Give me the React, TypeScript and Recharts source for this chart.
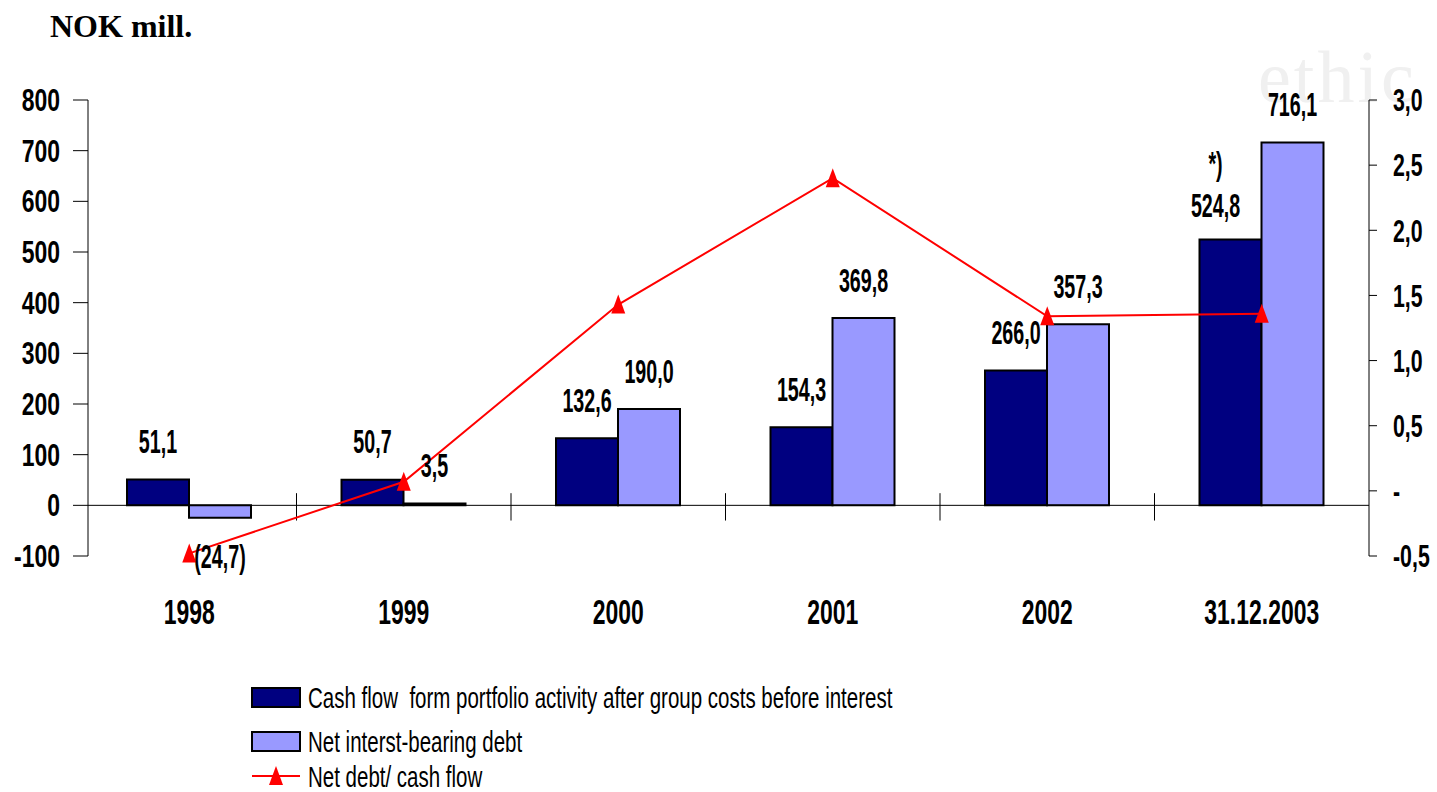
import React from 'react';
import { ComposedChart, Bar, Line, XAxis, YAxis, ReferenceLine } from 'recharts';

// ---------- data ----------
const categories = ['1998', '1999', '2000', '2001', '2002', '31.12.2003'];
const cashFlow = [51.1, 50.7, 132.6, 154.3, 266.0, 524.8];
const netDebt = [-24.7, 3.5, 190.0, 369.8, 357.3, 716.1];
const debtToCash = [-0.48, 0.07, 1.43, 2.4, 1.34, 1.36];
const cashNotes = ['', '', '', '', '', '*)'];
const leftTicks = [-100, 0, 100, 200, 300, 400, 500, 600, 700, 800];
const rightTicks = [-0.5, 0, 0.5, 1.0, 1.5, 2.0, 2.5, 3.0];
const seriesNames = [
  'Cash flow  form portfolio activity after group costs before interest',
  'Net interst-bearing debt',
  'Net debt/ cash flow',
];
const unitTitle = 'NOK mill.';

const data = categories.map((c, i) => ({
  category: c,
  cash: cashFlow[i],
  debt: netDebt[i],
  ratio: debtToCash[i],
  note: cashNotes[i],
}));

// ---------- styles ----------
const SANS = "'Liberation Sans', Arial, sans-serif";
const SERIF = "'Liberation Serif', 'Times New Roman', serif";
const DARK = '#000080';
const LIGHT = '#9999FF';
const RED = '#FF0000';
const NARROW_X = 0.82;

const LABEL_NUDGE: Record<string, Record<number, { dx: number; dy: number }>> = {
  cash: { 5: { dx: -15, dy: 4 } },
};

const fmt = (v: number) => {
  const s = Math.abs(v).toFixed(1).replace('.', ',');
  return v < 0 ? `(${s})` : s;
};

const StretchText = ({ x, y, sy, sx, anchor, size, weight, children }: any) => (
  <g transform={`translate(${x},${y}) scale(${sx ?? NARROW_X},${sy})`}>
    <text
      x={0}
      y={0}
      dy="0.36em"
      textAnchor={anchor}
      fontFamily={SANS}
      fontWeight={weight}
      fontSize={size}
      fill="#000"
      style={{ whiteSpace: 'pre' }}
    >
      {children}
    </text>
  </g>
);

const makeBarLabel = (series: string) => (props: any) => {
  const vb = props.viewBox || {};
  const x = Number(props.x ?? vb.x);
  const y = Number(props.y ?? vb.y);
  const w = Number(props.width ?? vb.width);
  const h = Number(props.height ?? vb.height);
  const idx = Number(props.index);
  const value = Number(props.value);
  if (!isFinite(x) || !isFinite(y)) return null;
  const top = Math.min(y, y + h);
  const bottom = Math.max(y, y + h);
  const nudge = (LABEL_NUDGE[series] && LABEL_NUDGE[series][idx]) || { dx: 0, dy: 0 };
  const cx = x + w / 2 + nudge.dx;
  const cy = (value < 0 ? bottom + 38 : top - 38) + nudge.dy;
  const note = series === 'cash' ? cashNotes[idx] : '';
  return (
    <g>
      <StretchText x={cx} y={cy} sy={1.35} anchor="middle" size={24} weight="bold">
        {fmt(value)}
      </StretchText>
      {note ? (
        <StretchText x={cx} y={cy - 42} sy={1.35} anchor="middle" size={24} weight="bold">
          {note}
        </StretchText>
      ) : null}
    </g>
  );
};

const LeftTick = (props: any) => {
  const { x, y, payload } = props;
  return (
    <StretchText x={x} y={y} sy={1.1} anchor="end" size={28} weight="bold">
      {String(payload.value)}
    </StretchText>
  );
};

const RightTick = (props: any) => {
  const { x, y, payload } = props;
  const v = Number(payload.value);
  const label = v === 0 ? '-' : v.toFixed(1).replace('.', ',');
  return (
    <StretchText x={x} y={y} sy={1.2} anchor="start" size={26} weight="bold">
      {label}
    </StretchText>
  );
};

const XTick = (props: any) => {
  const { x, y, payload } = props;
  return (
    <StretchText x={x} y={Number(y) + 55} sy={1.25} anchor="middle" size={28} weight="bold">
      {payload.value}
    </StretchText>
  );
};

const Triangle = ({ cx, cy }: { cx: number; cy: number }) => (
  <polygon points={`${cx},${cy - 10} ${cx - 7},${cy + 9} ${cx + 7},${cy + 9}`} fill={RED} />
);

const TriangleDot = (props: any) => {
  const { cx, cy, index } = props;
  if (cx == null || cy == null) return <g key={`d${index}`} />;
  return <Triangle key={`d${index}`} cx={cx} cy={cy} />;
};

export default function App() {
  return (
    <div
      style={{
        position: 'absolute',
        left: 0,
        top: 0,
        width: 1437,
        height: 792,
        background: '#fff',
        overflow: 'hidden',
      }}
    >
      <svg width={1437} height={792} style={{ position: 'absolute', left: 0, top: 0 }}>
        <text x={1258} y={102} fontFamily={SERIF} fontSize={74} letterSpacing={3} fill="#f0f0f0">
          ethic
        </text>
        <text x={50} y={37} fontFamily={SERIF} fontWeight="bold" fontSize={32} fill="#000">
          {unitTitle}
        </text>
        {/* legend */}
        <rect x={252} y={688} width={48} height={19} fill={DARK} stroke="#000" strokeWidth={2} />
        <StretchText x={308} y={697} sy={1.2} anchor="start" size={25} weight="normal">
          {seriesNames[0]}
        </StretchText>
        <rect x={252} y={732} width={48} height={19} fill={LIGHT} stroke="#000" strokeWidth={2} />
        <StretchText x={308} y={741} sy={1.2} anchor="start" size={25} weight="normal">
          {seriesNames[1]}
        </StretchText>
        <line x1={252} x2={300} y1={776} y2={776} stroke={RED} strokeWidth={2} />
        <Triangle cx={276} cy={776} />
        <StretchText x={308} y={776} sy={1.2} anchor="start" size={25} weight="normal">
          {seriesNames[2]}
        </StretchText>
      </svg>
      <div style={{ position: 'absolute', left: 0, top: 0 }}>
        <ComposedChart
          width={1437}
          height={792}
          data={data}
          margin={{ top: 100, right: 0, bottom: 0, left: 0 }}
          barGap={0}
        >
          <XAxis
            dataKey="category"
            xAxisId="x"
            axisLine={false}
            tickLine={false}
            tickSize={0}
            tickMargin={0}
            height={236}
            interval={0}
            padding={{ left: -6, right: 0 }}
            tick={<XTick />}
          />
          <YAxis
            yAxisId="left"
            orientation="left"
            width={88}
            domain={[-100, 800]}
            ticks={leftTicks}
            interval={0}
            axisLine={{ stroke: '#000', strokeWidth: 1 }}
            tickLine={{ stroke: '#000', strokeWidth: 1 }}
            tickSize={15}
            tickMargin={13}
            tick={<LeftTick />}
          />
          <YAxis
            yAxisId="right"
            orientation="right"
            width={68}
            domain={[-0.5, 3]}
            ticks={rightTicks}
            interval={0}
            axisLine={{ stroke: '#000', strokeWidth: 1 }}
            tickLine={{ stroke: '#000', strokeWidth: 1 }}
            tickSize={8}
            tickMargin={16}
            tick={<RightTick />}
          />
          <ReferenceLine yAxisId="left" xAxisId="x" y={0} stroke="#000" strokeWidth={1} />
          {categories.slice(1).map((c) => (
            <ReferenceLine
              key={`b${c}`}
              yAxisId="left"
              xAxisId="x"
              position="start"
              segment={[
                { x: c, y: 24 },
                { x: c, y: -30 },
              ]}
              stroke="#000"
              strokeWidth={1}
            />
          ))}
          <Bar
            dataKey="cash"
            xAxisId="x"
            yAxisId="left"
            barSize={62}
            fill={DARK}
            stroke="#000"
            strokeWidth={2}
            isAnimationActive={false}
            label={makeBarLabel('cash')}
          />
          <Bar
            dataKey="debt"
            xAxisId="x"
            yAxisId="left"
            barSize={62}
            fill={LIGHT}
            stroke="#000"
            strokeWidth={2}
            isAnimationActive={false}
            label={makeBarLabel('debt')}
          />
          <Line
            dataKey="ratio"
            xAxisId="x"
            yAxisId="right"
            stroke={RED}
            strokeWidth={2}
            dot={<TriangleDot />}
            activeDot={false}
            isAnimationActive={false}
          />
        </ComposedChart>
      </div>
    </div>
  );
}
